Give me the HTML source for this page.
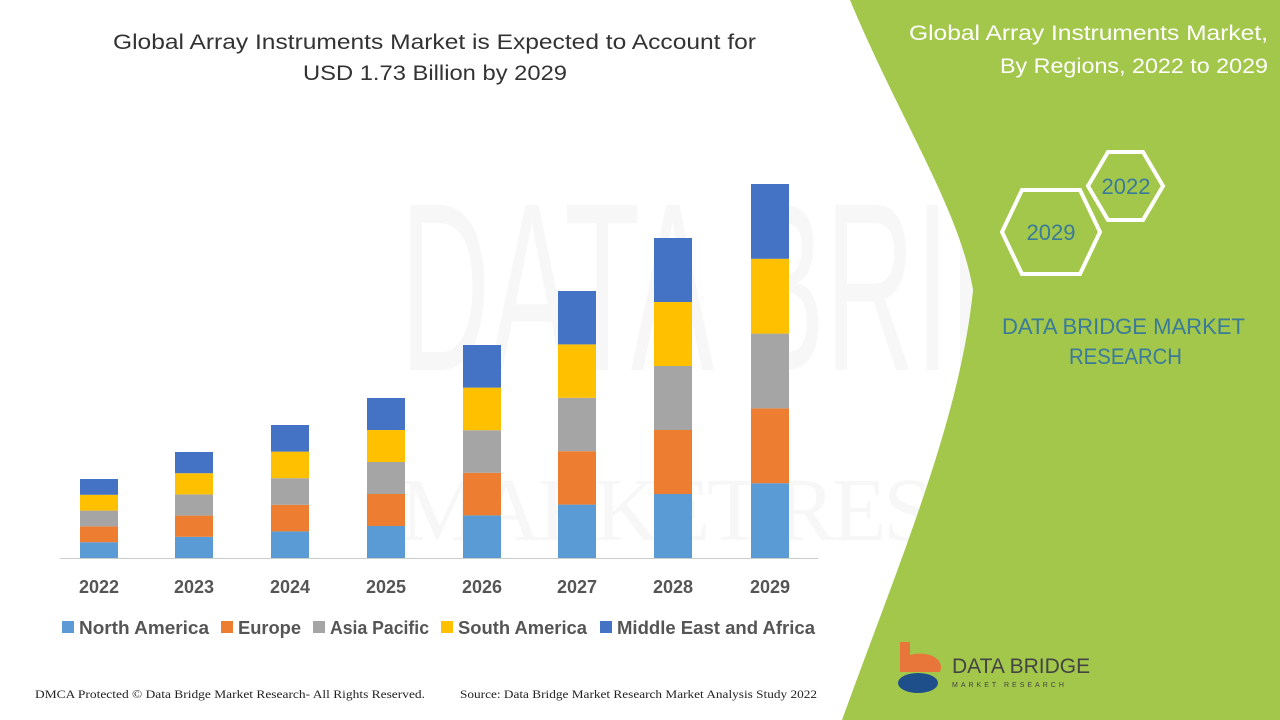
<!DOCTYPE html>
<html><head><meta charset="utf-8"><style>
body{margin:0;width:1280px;height:720px;overflow:hidden;background:#fff;font-family:"Liberation Sans",sans-serif;}
</style></head><body>
<svg width="1280" height="720" viewBox="0 0 1280 720" xmlns="http://www.w3.org/2000/svg" style="position:absolute;left:0;top:0">
<g opacity="0.06" fill="#888">
<text x="400" y="370" font-size="240" font-family="Liberation Sans" textLength="820" lengthAdjust="spacingAndGlyphs">DATA BRIDGE</text>
<text x="400" y="540" font-size="90" font-family="Liberation Serif" textLength="820" lengthAdjust="spacing">MARKET RESEARCH</text>
</g>
<path d="M850,0 L1280,0 L1280,720 L842,720 C900,560 960,420 973,290 C960,210 900,120 850,0 Z" fill="#a3c74a"/>
<text x="909" y="40" font-size="21" fill="#fff" textLength="359" lengthAdjust="spacingAndGlyphs">Global Array Instruments Market,</text>
<text x="1000" y="73" font-size="21" fill="#fff" textLength="268" lengthAdjust="spacingAndGlyphs">By Regions, 2022 to 2029</text>
<polygon points="1108,152 1143,152 1163,186 1143,220 1108,220 1088,186" fill="none" stroke="#fff" stroke-width="4"/>
<polygon points="1022,190 1080,190 1100,232 1080,274 1022,274 1002,232" fill="none" stroke="#fff" stroke-width="4"/>
<text x="1126" y="194" font-size="22" fill="#3a7a9a" text-anchor="middle">2022</text>
<text x="1051" y="240" font-size="22" fill="#3a7a9a" text-anchor="middle">2029</text>
<text x="1002" y="334" font-size="22" fill="#3a7a9a" textLength="243" lengthAdjust="spacingAndGlyphs">DATA BRIDGE MARKET</text>
<text x="1069" y="364" font-size="22" fill="#3a7a9a" textLength="113" lengthAdjust="spacingAndGlyphs">RESEARCH</text>
<path d="M900,642 L910,642 L910,655 C930,650 945,660 940,672 L900,672 Z" fill="#e8763a"/>
<ellipse cx="918" cy="683" rx="20" ry="10" fill="#1f4f8a"/>
<text x="952" y="673" font-size="21" fill="#444">DATA BRIDGE</text>
<text x="952" y="687" font-size="7" fill="#444" letter-spacing="3">MARKET RESEARCH</text>
<text x="113" y="49" font-size="21" fill="#333" textLength="643" lengthAdjust="spacingAndGlyphs">Global Array Instruments Market is Expected to Account for</text>
<text x="303" y="80" font-size="21" fill="#333" textLength="264" lengthAdjust="spacingAndGlyphs">USD 1.73 Billion by 2029</text>
<line x1="60" y1="558.5" x2="818" y2="558.5" stroke="#ccc" stroke-width="1"/>
<g id="bars"></g>
<g font-size="18" font-weight="bold" fill="#555" text-anchor="middle">
<text x="99" y="593">2022</text><text x="194" y="593">2023</text><text x="290" y="593">2024</text><text x="386" y="593">2025</text><text x="482" y="593">2026</text><text x="577" y="593">2027</text><text x="673" y="593">2028</text><text x="770" y="593">2029</text>
</g>
<g font-size="18" font-weight="bold" fill="#555">
<rect x="62" y="621" width="12" height="12" fill="#5b9bd5"/><text x="79" y="634" textLength="130" lengthAdjust="spacingAndGlyphs">North America</text>
<rect x="221" y="621" width="12" height="12" fill="#ed7d31"/><text x="238" y="634" textLength="63" lengthAdjust="spacingAndGlyphs">Europe</text>
<rect x="313" y="621" width="12" height="12" fill="#a5a5a5"/><text x="330" y="634" textLength="99" lengthAdjust="spacingAndGlyphs">Asia Pacific</text>
<rect x="441" y="621" width="12" height="12" fill="#ffc000"/><text x="458" y="634" textLength="129" lengthAdjust="spacingAndGlyphs">South America</text>
<rect x="600" y="621" width="12" height="12" fill="#4472c4"/><text x="617" y="634" textLength="198" lengthAdjust="spacingAndGlyphs">Middle East and Africa</text>
</g>
<text x="35" y="698" font-size="12" font-family="Liberation Serif" fill="#222" textLength="390" lengthAdjust="spacingAndGlyphs">DMCA Protected © Data Bridge Market Research- All Rights Reserved.</text>
<text x="460" y="698" font-size="12" font-family="Liberation Serif" fill="#222" textLength="357" lengthAdjust="spacingAndGlyphs">Source: Data Bridge Market Research Market Analysis Study 2022</text>
</svg>
<script>
const xs=[99,194,290,386,482,577,673,770],tops=[479,452,425,398,345,291,238,184];
const cols=["#5b9bd5","#ed7d31","#a5a5a5","#ffc000","#4472c4"];
let s="";xs.forEach((x,i)=>{const h=(558-tops[i])/5;for(let k=0;k<5;k++){const y=558-h*(k+1);s+=`<rect x="${x-19}" y="${y}" width="38" height="${h}" fill="${cols[k]}"/>`;}});
document.getElementById("bars").innerHTML=s;
</script>
</body></html>
